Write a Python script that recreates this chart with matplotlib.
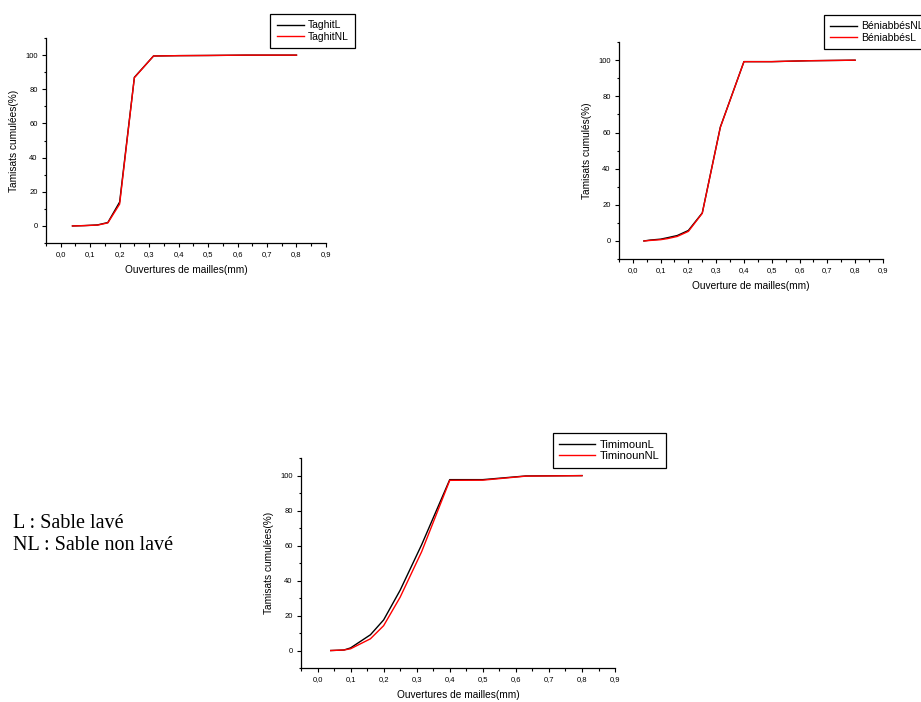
import matplotlib.pyplot as plt
from matplotlib.ticker import MultipleLocator
import numpy as np

plt.rcParams['font.family'] = ['Liberation Sans', 'DejaVu Sans']

# ouvertures des tamis (mm)
tamis_taghit = [0.04, 0.08, 0.125, 0.16, 0.2, 0.25, 0.315, 0.4, 0.5, 0.63, 0.8]
taghit_L = [0.0, 0.2, 0.6, 2.0, 14.0, 87.0, 99.5, 99.7, 99.8, 100.0, 100.0]
taghit_NL = [0.0, 0.2, 0.5, 1.8, 12.8, 86.8, 99.5, 99.7, 99.8, 100.0, 100.0]

tamis_beni = [0.04, 0.063, 0.1, 0.125, 0.16, 0.2, 0.25, 0.315, 0.4, 0.5, 0.63, 0.8]
beni_NL = [0.0, 0.5, 1.0, 1.8, 3.0, 5.8, 15.5, 63.0, 99.2, 99.2, 99.7, 100.0]
beni_L = [0.0, 0.3, 0.7, 1.3, 2.5, 5.3, 15.3, 62.8, 99.2, 99.2, 99.7, 100.0]

tamis_timi = [0.04, 0.08, 0.1, 0.16, 0.2, 0.25, 0.315, 0.4, 0.5, 0.63, 0.8]
timi_L = [0.0, 0.3, 1.5, 9.0, 17.5, 34.5, 60.5, 97.7, 97.7, 99.8, 100.0]
timi_NL = [0.0, 0.3, 1.0, 6.7, 14.2, 30.5, 56.5, 97.3, 97.4, 99.7, 100.0]

fig = plt.figure(figsize=(9.21, 7.02), dpi=100)


def style_axes(ax, xlabel, ylabel):
    ax.set_xlim(-0.05, 0.9)
    ax.set_ylim(-10, 110)
    ax.spines['top'].set_visible(False)
    ax.spines['right'].set_visible(False)
    for s in ['left', 'bottom']:
        ax.spines[s].set_linewidth(0.9)
    ax.xaxis.set_major_locator(MultipleLocator(0.1))
    ax.xaxis.set_minor_locator(MultipleLocator(0.05))
    ax.yaxis.set_major_locator(MultipleLocator(20))
    ax.yaxis.set_minor_locator(MultipleLocator(10))
    ax.xaxis.set_major_formatter(plt.FuncFormatter(lambda v, p: ('%.1f' % v).replace('.', ',')))
    ax.yaxis.set_major_formatter(plt.FuncFormatter(lambda v, p: '%d' % v))
    ax.tick_params(which='major', direction='out', length=3, width=0.8, labelsize=5.5, pad=3)
    ax.tick_params(which='minor', direction='out', length=1.8, width=0.8)
    ax.set_xlabel(xlabel, fontsize=7.3, labelpad=4.5)
    ax.set_ylabel(ylabel, fontsize=7.3, labelpad=4.5)


def legende(ax, loc, anchor, taille=7.5, hl=2.6):
    ax.legend(loc=loc, bbox_to_anchor=anchor, bbox_transform=fig.transFigure,
              fontsize=taille, frameon=True, fancybox=False, edgecolor='black', framealpha=1,
              handlelength=hl, borderpad=0.6, labelspacing=0.15, handletextpad=0.4,
              borderaxespad=0).get_frame().set_linewidth(0.9)


# Taghit
ax1 = fig.add_axes([0.0499, 0.6538, 0.304, 0.292])
ax1.plot(tamis_taghit, taghit_L, color='black', lw=1.0, label='TaghitL')
ax1.plot(tamis_taghit, taghit_NL, color='red', lw=1.0, label='TaghitNL')
style_axes(ax1, 'Ouvertures de mailles(mm)', 'Tamisats cumulées(%)')
legende(ax1, 'upper right', (0.3855, 0.980))

# Béniabbès
ax2 = fig.add_axes([0.672, 0.631, 0.2866, 0.309])
ax2.plot(tamis_beni, beni_NL, color='black', lw=1.0, label='BéniabbésNL')
ax2.plot(tamis_beni, beni_L, color='red', lw=1.0, label='BéniabbésL')
style_axes(ax2, 'Ouverture de mailles(mm)', 'Tamisats cumulés(%)')
legende(ax2, 'upper left', (0.8947, 0.9786))

# Timimoun
ax3 = fig.add_axes([0.3268, 0.0484, 0.341, 0.299])
ax3.plot(tamis_timi, timi_L, color='black', lw=1.0, label='TimimounL')
ax3.plot(tamis_timi, timi_NL, color='red', lw=1.0, label='TiminounNL')
style_axes(ax3, 'Ouvertures de mailles(mm)', 'Tamisats cumulées(%)')
legende(ax3, 'upper right', (0.723, 0.3832), taille=8, hl=3.2)

fig.text(13 / 921, 1 - 528 / 702, 'L : Sable lavé', family=['Liberation Serif', 'DejaVu Serif'],
         fontsize=14.5, va='baseline', ha='left')
fig.text(13 / 921, 1 - 550 / 702, 'NL : Sable non lavé', family=['Liberation Serif', 'DejaVu Serif'],
         fontsize=14.5, va='baseline', ha='left')

fig.savefig('out.png', dpi=100)
